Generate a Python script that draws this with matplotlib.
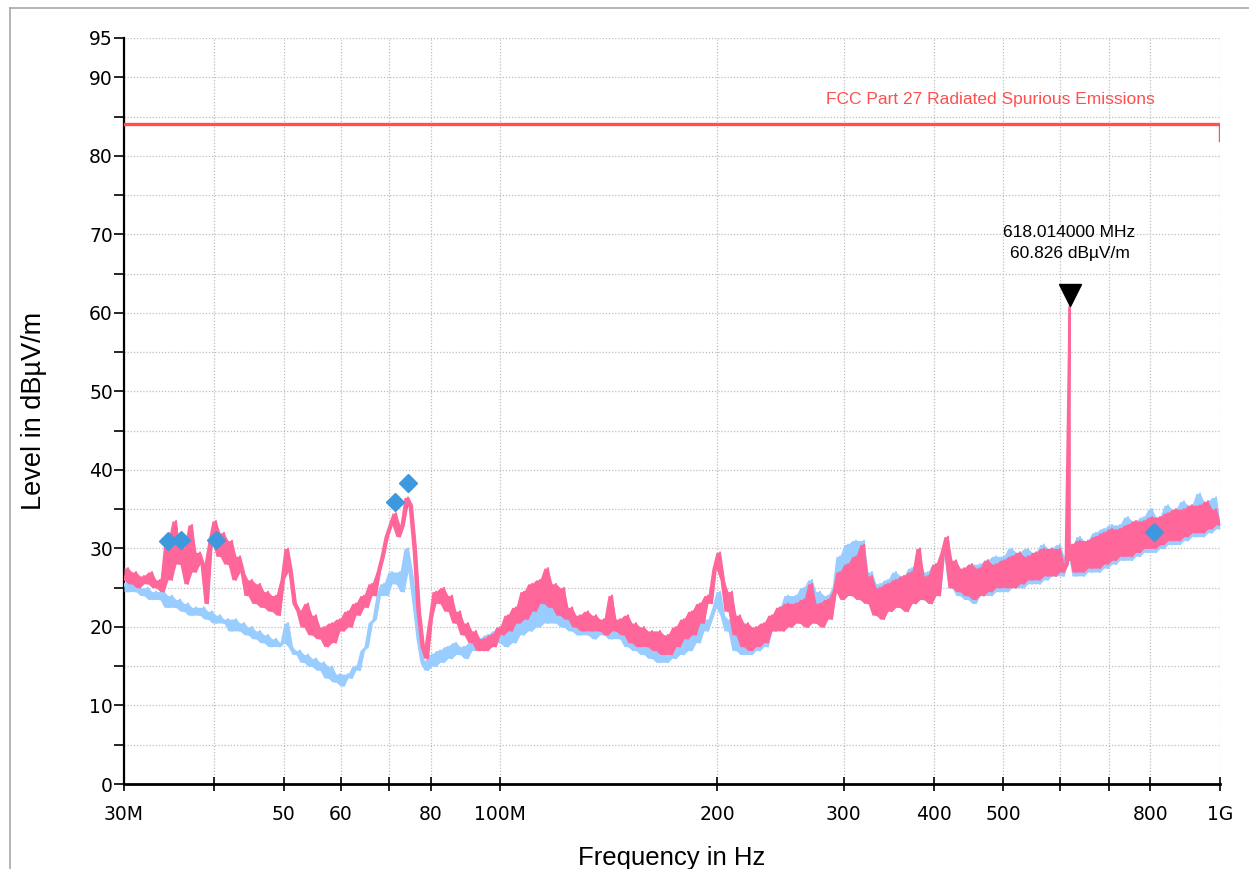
import matplotlib
matplotlib.use("Agg")
import matplotlib.pyplot as plt
import matplotlib.transforms as mtransforms
from matplotlib.lines import Line2D
import numpy as np

plt.rcParams["font.family"] = ["Liberation Sans", "DejaVu Sans"]

# Sweep: 275 points, 30 MHz .. 1 GHz (log spaced, as displayed)
sweep_mhz = np.geomspace(30, 1000, 275)

# Upper trace (pink)
pink_level = [
    26, 27.5, 25.5, 27, 25, 26.5, 25.5, 27, 25, 26, 24.5,
    31, 26, 33.5, 28, 30, 25.5, 33, 27, 29.5,
    28, 23, 31, 33.5, 29, 32, 28, 31, 26, 29,
    27, 24, 26, 23, 25.5, 22.5, 24.5, 22, 24, 21.5,
    26, 30, 27, 23,
    22, 20, 23, 19, 21.5, 18.5, 20, 17.5, 20.5, 18, 21,
    19.5, 22, 20, 23, 21.5, 24, 22.5, 25.5, 24, 27,
    29, 31.5, 33, 34.5, 31.5, 33, 36.5, 35.5, 30, 22, 17.5, 16, 21, 24.5, 23, 25,
    22, 24, 20.5, 22, 19, 20.5, 18, 19.5, 17, 18.5, 17, 19, 17.5, 20,
    19, 21.5, 19.5, 22.5, 20.5, 24.5, 21, 25.5, 22, 26, 23, 27.5, 22.5, 25.5, 21.5, 25, 21,
    22.5, 20, 21.5, 19.5, 22, 19.5, 21.5, 19.5, 21, 19, 24, 19.5, 21, 19,
    21.5, 18, 20.5, 17.5, 20, 17.5, 19.5, 17, 19.5, 16.5, 19, 16.5, 20, 17.5,
    21, 18.5, 22, 19, 23, 20.5, 24, 23, 27.5, 29.5, 26,
    22, 24.5, 19, 21.5, 17.5, 20.5, 17, 20, 17.5, 20.5, 18, 21.5,
    19.5, 22.5, 19.5, 23, 20, 23, 20.5, 23.5, 20, 25.5, 20.5, 23, 20, 23.5, 21,
    24.5, 27, 23.5, 28, 24, 29, 23.5, 30.5, 23, 26.5,
    21.5, 25, 21, 25.5, 22, 26, 22.5, 26.5, 22, 27, 23, 30, 23.5, 26.5, 23, 28,
    24, 29.5, 31.5, 25, 28.5, 24.5,
    27.5, 24, 28, 23.5, 27.5, 24, 28.5, 24.5, 28, 25, 28.5, 25, 29, 25, 29.5,
    25.5, 29, 26, 29.5, 26, 30, 26.5, 30, 26.5, 30, 27,
    28, 30.5, 27, 31, 27, 31, 27.5, 31.5, 27.5, 32, 28, 32.5, 28.5, 32.5, 29, 33,
    29, 33.5, 29.5, 33.5, 30, 34, 30, 34, 30.5, 34.5, 31, 35, 31, 35, 31.5, 35.5,
    32, 35.5, 32, 36, 32.5, 35, 33,
]

# Lower trace (light blue)
blue_level = [
    25.5, 24.5, 26, 24.5, 25, 24, 25, 23.5, 24.5, 23.5, 24.5,
    22.5, 24, 22.5, 23.5, 22, 23, 21.5, 22.5, 21.5,
    22.5, 21, 22, 20.5, 21.5, 20.5, 21, 19.5, 21, 19.5,
    20.5, 19, 20, 18.5, 19.5, 18, 19, 17.5, 18.5, 17.5,
    18, 20.5, 17.5, 16.5,
    17, 15.5, 16.5, 15, 16, 14.5, 15.5, 13.5, 15, 13, 14,
    12.5, 14, 13.5, 15, 14.5, 17, 17.5, 20.5, 21, 24,
    25.5, 24, 27, 25.5, 27, 24.5, 30, 27, 23, 18.5, 15.5, 14.5, 16.5, 15, 17, 15.5,
    17.5, 16, 18, 16.5, 17.5, 16, 18, 17, 18.5, 17, 19, 17.5, 19.5, 18,
    19, 17.5, 20, 18, 21, 19, 21.5, 19.5, 22, 20, 23.5, 20.5, 23, 20.5, 22.5, 20, 22,
    19.5, 21, 19, 20.5, 19, 21, 18.5, 20.5, 19, 20, 18.5, 20, 18.5, 19.5,
    17.5, 19, 17, 19, 16.5, 18.5, 16, 18.5, 15.5, 18, 15.5, 18, 16, 17.5,
    16.5, 19, 17, 20, 18, 21, 19.5, 21, 22.5, 24.5, 21.5,
    19.5, 21, 17, 19.5, 16.5, 19, 16.5, 19, 17, 19.5, 17.5, 20.5,
    19.5, 22.5, 20, 24, 20.5, 24, 20.5, 25, 20, 26, 20.5, 24.5, 20.5, 24, 21.5,
    25, 29, 24, 30.5, 24.5, 31, 24, 31, 23.5, 27,
    22, 25.5, 21.5, 26, 22.5, 27, 22.5, 26.5, 22, 27.5, 23, 28.5, 23.5, 27, 23, 28,
    24, 29, 30.5, 25, 28, 24,
    27, 23.5, 28, 23, 28, 24, 28.5, 24, 29, 24.5, 29, 24.5, 30, 25, 29.5,
    25, 30, 25.5, 29.5, 25.5, 30.5, 26, 30, 26.5, 30.5, 26.5,
    29, 30, 26.5, 31.5, 26.5, 31, 27, 32, 27, 32.5, 27.5, 33, 28, 33, 28.5, 34,
    28.5, 33.5, 29, 34, 29.5, 35, 29.5, 34, 30, 35.5, 30.5, 35, 30.5, 36, 31, 35.5,
    31.5, 37, 31.5, 36, 32, 36.5, 32.5,
]

# Narrow carrier at the marker frequency
peak_freq = 618.014
peak_level = 60.826
pink_spike_freq = [617.8, peak_freq, 618.3, 618.5]
pink_spike_level = [60.5, peak_level, 60.5, 28.5]
blue_spike_freq = [616.4, 616.6, 617.0, 617.4, 617.5]
blue_spike_level = [28.5, 60.0, 60.3, 60.0, 28.5]

# Final-measurement points (diamonds)
final_freq = [34.5, 36.0, 40.3, 71.4, 74.4, 809.0]
final_level = [31.0, 31.1, 31.1, 35.9, 38.3, 32.1]

# Limit line
limit_freq = [30, 1000, 1000]
limit_level = [84, 84, 82]
limit_name = "FCC Part 27 Radiated Spurious Emissions"

xtick_vals = [30, 40, 50, 60, 70, 80, 100, 200, 300, 400, 500, 600, 700, 800, 1000]
xtick_text = ["30M", "", "50", "60", "", "80", "100M", "200", "300", "400", "500", "", "", "800", "1G"]
ytick_major = [0, 10, 20, 30, 40, 50, 60, 70, 80, 90, 95]
ytick_minor = [5, 15, 25, 35, 45, 55, 65, 75, 85]


def add_spike(freq, level, sf, sl):
    idx = np.searchsorted(freq, sf[0])
    return np.insert(freq, idx, sf), np.insert(np.asarray(level, float), idx, sl)


def draw_trace(ax, freq, level, color, z):
    # shade the zigzag so the noisy trace reads as a dense band
    lo = np.minimum(level[:-1], level[1:])
    hi = np.maximum(level[:-1], level[1:])
    ax.fill_between(freq, np.append(lo, level[-1]), np.append(hi, level[-1]),
                    color=color, lw=0, zorder=z)
    ax.plot(freq, level, color=color, lw=1.4, zorder=z)


fig = plt.figure(figsize=(12.49, 8.69), dpi=100)
ax = fig.add_axes([124 / 1249, 1 - 784 / 869, 1096 / 1249, 746 / 869])

bf, bl = add_spike(sweep_mhz, blue_level, blue_spike_freq, blue_spike_level)
pf, pl = add_spike(sweep_mhz, pink_level, pink_spike_freq, pink_spike_level)
draw_trace(ax, bf, bl, "#99ccff", 3)
draw_trace(ax, pf, pl, "#ff6699", 4)

ax.plot(limit_freq, limit_level, color="#ff4f4f", lw=2.4, zorder=5, solid_joinstyle="miter")
ax.text(480, 87.2, limit_name, color="#ff4f4f", fontsize=12.5, ha="center", va="center")

ax.plot(final_freq, final_level, "D", color="#3d98dd", ms=9, mec="#3d98dd", ls="none", zorder=6)

# marker triangle just above the peak, label above it
tri = mtransforms.offset_copy(ax.transData, fig=fig, x=0, y=8.5, units="points")
ax.plot([peak_freq], [peak_level], marker="v", color="black", ms=16, transform=tri, zorder=7,
        clip_on=False)
ax.annotate(f"{peak_freq:.6f} MHz\n{peak_level:.3f} dBµV/m", xy=(peak_freq, peak_level),
            xytext=(0, 33), textcoords="offset points", ha="center", va="bottom",
            fontsize=12.5, linespacing=1.5)

ax.set_xscale("log")
ax.set_xlim(30, 1000)
ax.set_ylim(0, 95)
ax.xaxis.set_major_locator(matplotlib.ticker.FixedLocator(xtick_vals))
ax.xaxis.set_minor_locator(matplotlib.ticker.NullLocator())
ax.set_xticklabels(xtick_text)
ax.set_yticks(ytick_major)
ax.set_yticks(ytick_minor, minor=True)

ax.grid(True, which="both", axis="y", color="#bdbdbd", ls=(0, (1, 1.5)), lw=0.9)
ax.grid(True, which="major", axis="x", color="#bdbdbd", ls=(0, (1, 1.5)), lw=0.9)
ax.set_axisbelow(True)

for s in ("top", "right"):
    ax.spines[s].set_visible(False)
ax.spines["left"].set_linewidth(1.6)
ax.spines["bottom"].set_linewidth(2.0)
ax.tick_params(axis="x", direction="inout", length=10, width=1.2, pad=10, labelsize=13.5)
ax.tick_params(axis="y", which="both", direction="out", length=7, width=1.2, pad=1, labelsize=13.5)
for lab in ax.get_xticklabels() + ax.get_yticklabels():
    lab.set_family("DejaVu Sans")

ax.set_xlabel("Frequency in Hz", fontsize=18.5, labelpad=16)
ax.set_ylabel("Level in dBµV/m", fontsize=19.5, labelpad=30)

# thin grey frame of the report page
fig.add_artist(Line2D([10 / 1249, 10 / 1249], [0, 1 - 8 / 869], color="#a8a8a8", lw=1.2))
fig.add_artist(Line2D([10 / 1249, 1], [1 - 8 / 869, 1 - 8 / 869], color="#a8a8a8", lw=1.2))

fig.savefig("out.png", dpi=100)
